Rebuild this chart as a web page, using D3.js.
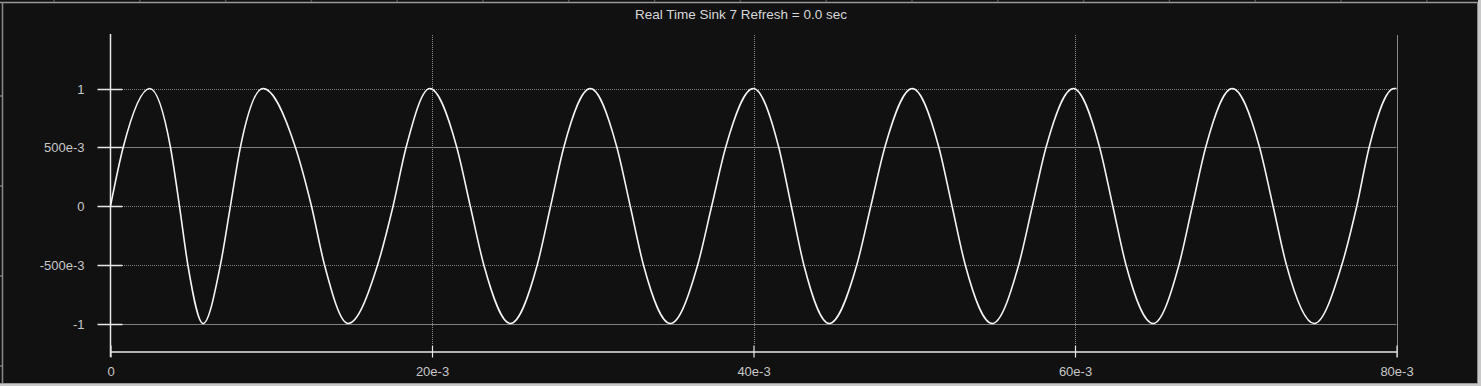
<!DOCTYPE html>
<html>
<head>
<meta charset="utf-8">
<script src="https://cdn.jsdelivr.net/npm/d3@7"></script>
<style>
  html, body { margin: 0; padding: 0; background: #111111; }
  svg { display: block; }
  text { font-family: "Liberation Sans", Arial, sans-serif; }
</style>
</head>
<body>
<script>
// ---- data (time in ms, amplitude) ----
const timeMs = [
  0, 0.79, 2.44, 3.73, 4.29, 4.81, 5.76, 6.84, 7.46, 8.08, 9.49,
  11.5, 12.5, 13.31, 14.78, 16.62, 17.58, 18.39, 19.86,
  21.54, 22.38, 23.22, 24.88, 26.55, 27.38, 28.2, 29.85,
  31.5, 32.33, 33.15, 34.83, 36.53, 37.4, 38.27, 39.99,
  41.57, 42.35, 43.13, 44.71, 46.43, 47.3, 48.17, 49.88,
  51.53, 52.35, 53.17, 54.85, 56.5, 57.35, 58.2, 59.89,
  61.53, 62.35, 63.17, 64.86, 66.47, 67.3, 68.13, 69.78,
  71.48, 72.32, 73.15, 74.88, 76.6, 77.53, 78.3, 79.85, 80
];
const amplitude = [
  0, 0.5, 1, 0.5, 0, -0.5, -1, -0.5, 0, 0.5, 1,
  0.5, 0, -0.5, -1, -0.5, 0, 0.5, 1,
  0.5, 0, -0.5, -1, -0.5, 0, 0.5, 1,
  0.5, 0, -0.5, -1, -0.5, 0, 0.5, 1,
  0.5, 0, -0.5, -1, -0.5, 0, 0.5, 1,
  0.5, 0, -0.5, -1, -0.5, 0, 0.5, 1,
  0.5, 0, -0.5, -1, -0.5, 0, 0.5, 1,
  0.5, 0, -0.5, -1, -0.5, 0, 0.5, 1, 1
];
const xTickValues = [0, 20, 40, 60, 80];
const xTickLabels = ["0", "20e-3", "40e-3", "60e-3", "80e-3"];
const yTickValues = [1, 0.5, 0, -0.5, -1];
const yTickLabels = ["1", "500e-3", "0", "-500e-3", "-1"];
const yDottedGrid = [1, 0, -0.5];
const titleText = "Real Time Sink 7 Refresh = 0.0 sec";

// ---- layout ----
const W = 1481, H = 386;
const svg = d3.select("body").append("svg").attr("width", W).attr("height", H);

// frame
svg.append("rect").attr("width", W).attr("height", H).attr("fill", "#111111");
svg.append("rect").attr("x", 1478).attr("y", 0).attr("width", 3).attr("height", H).attr("fill", "#c8c8c8");
svg.append("rect").attr("x", 0).attr("y", 384).attr("width", W).attr("height", 2).attr("fill", "#c8c8c8");
svg.append("line").attr("x1", 0).attr("x2", 1478).attr("y1", 2.5).attr("y2", 2.5).attr("stroke", "#9a9a9a").attr("stroke-width", 1.5);
svg.append("line").attr("x1", 2.5).attr("x2", 2.5).attr("y1", 2).attr("y2", 384).attr("stroke", "#8a8a8a").attr("stroke-width", 1.5);
svg.append("line").attr("x1", 1477.5).attr("x2", 1477.5).attr("y1", 2).attr("y2", 384).attr("stroke", "#8a8a8a");
svg.append("line").attr("x1", 0).attr("x2", 1478).attr("y1", 383.5).attr("y2", 383.5).attr("stroke", "#9a9a9a");
// ruler notches on the frame
svg.append("g").selectAll("line").data(d3.range(54, 1478, 85.8)).join("line")
  .attr("x1", d => d).attr("x2", d => d).attr("y1", 0).attr("y2", 2)
  .attr("stroke", "#555").attr("stroke-width", 1.5);
svg.append("g").selectAll("line").data(d3.range(96, 384, 90)).join("line")
  .attr("y1", d => d).attr("y2", d => d).attr("x1", 0).attr("x2", 2)
  .attr("stroke", "#777").attr("stroke-width", 1.5);

// scales
const x = d3.scaleLinear().domain([0, 80]).range([110.5, 1396.5]);
const y = d3.scaleLinear().domain([-1.234, 1.464]).range([351, 34]);
const plotTop = 35, axisY = 351;

// horizontal grid
svg.append("g").selectAll("line").data(yTickValues).join("line")
  .attr("x1", 122).attr("x2", x(80))
  .attr("y1", d => Math.round(y(d)) + 0.5).attr("y2", d => Math.round(y(d)) + 0.5)
  .attr("stroke", "#808080").attr("stroke-width", 1)
  .attr("stroke-dasharray", d => yDottedGrid.includes(d) ? "1,1" : null);

// vertical grid
svg.append("g").selectAll("line").data(xTickValues.filter(d => d > 0 && d < 80)).join("line")
  .attr("x1", d => Math.round(x(d)) + 0.5).attr("x2", d => Math.round(x(d)) + 0.5)
  .attr("y1", plotTop).attr("y2", axisY - 6)
  .attr("stroke", "#8a8a8a").attr("stroke-dasharray", "1,1");
// right border line
svg.append("line")
  .attr("x1", Math.round(x(80)) + 0.5).attr("x2", Math.round(x(80)) + 0.5)
  .attr("y1", plotTop).attr("y2", axisY + 6).attr("stroke", "#8a8a8a");

// x axis
const xAxis = d3.axisBottom(x).tickValues(xTickValues)
  .tickFormat((d, i) => xTickLabels[i]).tickSize(6).tickSizeOuter(0);
const gx = svg.append("g").attr("transform", `translate(0,${axisY + 0.5})`).call(xAxis);
gx.select(".domain").attr("stroke", "#e8e8e8").attr("stroke-width", 1.5);
gx.selectAll(".tick line").attr("stroke", "#e8e8e8").attr("y1", -6).attr("y2", 6).attr("stroke-width", 1.2);
gx.selectAll(".tick text").attr("fill", "#c8c8c8").attr("font-size", 13).attr("dy", 0).attr("y", 24)
  .attr("font-family", "'Liberation Sans', Arial, sans-serif");

// y axis
const yAxis = d3.axisLeft(y).tickValues(yTickValues)
  .tickFormat((d, i) => yTickLabels[i]).tickSize(13).tickPadding(13).tickSizeOuter(0);
const gy = svg.append("g").attr("transform", `translate(110.5,0)`).call(yAxis);
gy.select(".domain").attr("d", `M0,34V357`).attr("stroke", "#e8e8e8").attr("stroke-width", 1.5);
gy.selectAll(".tick line").attr("stroke", "#e8e8e8").attr("x1", -13).attr("x2", 12).attr("stroke-width", 1.5);
gy.selectAll(".tick").attr("transform", d => `translate(0,${Math.round(y(d)) + 0.5})`);
gy.selectAll(".tick text").attr("fill", "#c8c8c8").attr("font-size", 13).attr("dy", "0.36em")
  .attr("font-family", "'Liberation Sans', Arial, sans-serif");

// waveform
const pts = timeMs.map((t, i) => [t, amplitude[i]]);
const line = d3.line().x(d => x(d[0])).y(d => y(d[1])).curve(d3.curveMonotoneX);
svg.append("path").datum(pts).attr("d", line)
  .attr("fill", "none").attr("stroke", "#f4f4f4").attr("stroke-width", 1.6);

// title
svg.append("text").attr("x", 741).attr("y", 19).attr("text-anchor", "middle")
  .attr("fill", "#d8d8d8").attr("font-size", 13.5).text(titleText);
</script>
</body>
</html>
